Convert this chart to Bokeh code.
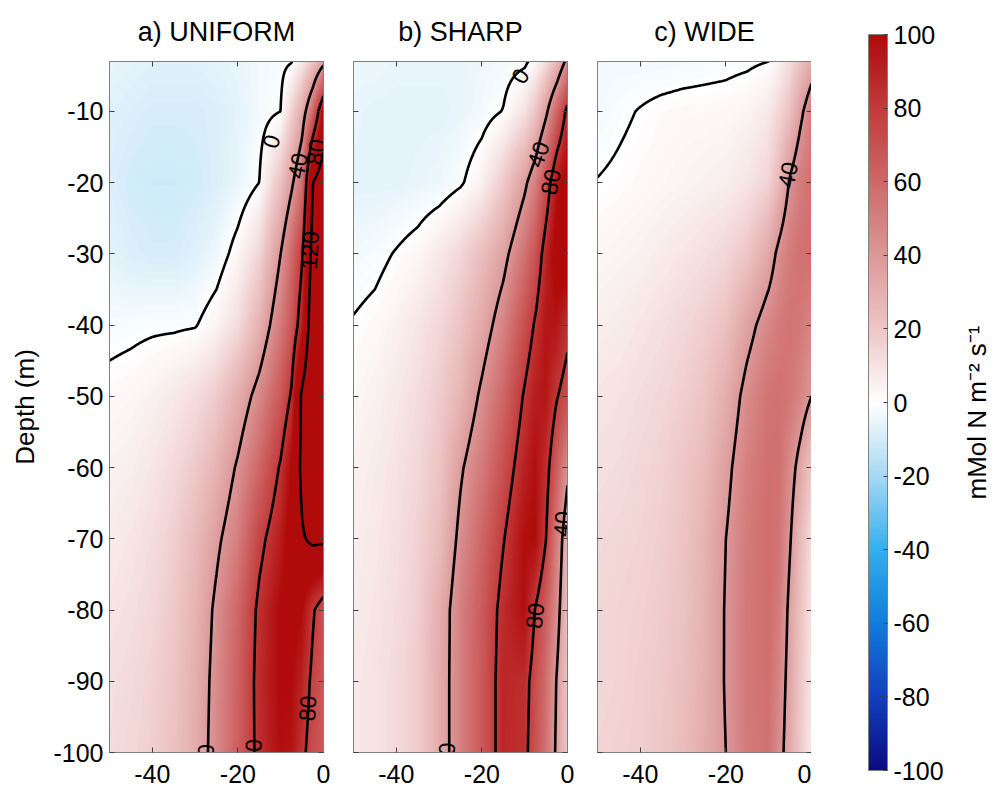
import numpy as np
from bokeh.plotting import figure
from bokeh.models import (LinearColorMapper, LinearAxis, FixedTicker, CustomJSTickFormatter,
                          Label, Range1d, ColumnDataSource, ColorBar)
from bokeh.layouts import row
from bokeh.embed import file_html
from bokeh.resources import INLINE
from bokeh.core.properties import value

FONT = "Liberation Sans"

# ---------------- data ----------------
x_cols = [-50, -45, -40, -35, -30, -25, -20, -15, -10, -7.5, -5, -2.5, 0]
depth_rows = [-3, -10, -20, -30, -40, -50, -60, -70, -80, -90, -100]

uniform_vals = [
    [-5, -6, -7, -7, -7, -6, -5, -3, -2, -0.5, 8, 20, 35],
    [-7, -8, -9, -9, -9, -8, -6, -3, 0, 15, 31, 58, 100],
    [-8, -10, -11, -11, -10, -8, -5, 0, 22, 37, 55, 120, 135],
    [-6, -8, -9, -9, -7, -4, 3, 14, 40, 58, 78, 130, 135],
    [-2, -1.5, -1, -1, -0.5, 4, 12, 28, 52, 66, 90, 140, 140],
    [2, 3, 5, 8, 12, 18, 30, 46, 66, 82, 125, 145, 145],
    [5, 6, 9, 13, 19, 28, 42, 60, 82, 100, 125, 145, 145],
    [7, 9, 12, 17, 25, 37, 50, 75, 92, 105, 118, 124, 124],
    [9, 11, 14, 19, 28, 43, 60, 84, 100, 105, 100, 82, 70],
    [11, 13, 16, 21, 30, 45, 62, 86, 100, 100, 90, 76, 68],
    [12, 14, 17, 22, 31, 46, 63, 85, 98, 96, 84, 72, 66],
]
sharp_vals = [
    [-4, -4, -5, -5, -5, -5, -4, -3, -1.5, 3, 12, 25, 45],
    [-5, -6, -6, -6, -6, -5, -3, 0.3, 10, 20, 37, 60, 85],
    [-6, -6, -6, -5, -4, -1, 5, 18, 37, 50, 70, 95, 105],
    [-3, -2, 0.5, 3, 8, 14, 23, 35, 55, 68, 88, 105, 110],
    [0.5, 2, 5, 9, 14, 21, 32, 48, 70, 82, 95, 95, 85],
    [3, 5, 8, 12, 18, 27, 43, 60, 82, 92, 95, 81, 72],
    [5, 7, 10, 14, 21, 38, 52, 70, 90, 98, 86, 65, 44],
    [6, 8, 11, 16, 24, 44, 60, 79, 98, 100, 80, 52, 28],
    [7, 9, 12, 17, 30, 50, 65, 86, 98, 79, 65, 46, 24],
    [8, 10, 13, 18, 31, 50, 66, 88, 86, 72, 58, 39, 22],
    [8, 10, 13, 18, 31, 50, 66, 88, 84, 70, 56, 37, 20],
]
wide_vals = [
    [-3, -3, -3, -3, -2.5, -2, -1.5, -1, 0, 5, 12, 22, 32],
    [-2.5, -1, 0.3, 1.5, 2.1, 2.3, 2.5, 4, 8, 14, 22, 37, 50],
    [0.2, 1, 2, 3, 4, 5, 6, 9, 15, 26, 42, 52, 56],
    [3, 4, 5, 7, 9, 11, 14, 20, 33, 44, 52, 56, 57],
    [6, 7, 9, 11, 14, 17, 22, 35, 47, 52, 55, 53, 48],
    [9, 10, 12, 14, 17, 21, 30, 45, 55, 56, 54, 48, 40],
    [11, 12, 14, 16, 20, 25, 36, 50, 57, 57, 46, 34, 20],
    [13, 14, 15, 17, 21, 28, 40, 52, 58, 55, 41, 25, 12],
    [14, 15, 16, 18, 22, 29, 41, 53, 58, 52, 36, 22, 10],
    [14, 15, 17, 19, 23, 30, 41, 53, 57, 48, 34, 20, 9],
    [15, 16, 17, 20, 24, 31, 40, 52, 56, 45, 32, 19, 8],
]

panel_titles = ["a) UNIFORM", "b) SHARP", "c) WIDE"]
contour_levels = [0, 40, 80, 120]

uniform_labels = dict(x=[-12.3, -6.1, -1.9, -3.3, -3.8, -27.6, -16.5],
                      y=[-14.2, -17.6, -15.7, -29.5, -93.8, -100.6, -99.9],
                      text=["0", "40", "80", "120", "80", "40", "80"],
                      angle=[72, 79, 81, 86, 87, 89, 89])
sharp_labels = dict(x=[-11.1, -6.9, -4.0, -1.3, -7.7, -28.3],
                    y=[-5.0, -16.0, -19.9, -67.9, -80.8, -100.4],
                    text=["0", "40", "80", "40", "80", "40"],
                    angle=[58, 71, 79, 86, 83, 89])
wide_labels = dict(x=[-5.6], y=[-18.9], text=["40"], angle=[78])

x_ticks = [-40, -20, 0]
y_ticks = [-100, -90, -80, -70, -60, -50, -40, -30, -20, -10]
cbar_ticks = [-100, -80, -60, -40, -20, 0, 20, 40, 60, 80, 100]
cbar_label = "mMol N m\u207b\u00b2 s\u207b\u00b9"

cmap_values = [-100, -80, -60, -40, -20, 0, 20, 40, 60, 80, 100]
cmap_colors = ["#0b0b85", "#123fbf", "#0f7ddd", "#33b0ee", "#a6d9f3", "#ffffff",
               "#eec6c6", "#dc9898", "#cf6868", "#c33b3b", "#b00a0a"]

# ---------------- colour map ----------------
def _rgb(h):
    return [int(h[i:i + 2], 16) for i in (1, 3, 5)]

_anch = np.array([_rgb(c) for c in cmap_colors], float)
palette = []
for v in np.linspace(-100, 100, 256):
    r, g, b = [int(round(np.interp(v, cmap_values, _anch[:, k]))) for k in range(3)]
    palette.append("#%02x%02x%02x" % (r, g, b))
mapper = LinearColorMapper(palette=palette, low=-100, high=100,
                           low_color=cmap_colors[0], high_color=cmap_colors[-1])

Y_TOP = -3.0
FRAME_W, FRAME_H = 214, 691


def smooth_field(vals, nx=215, ny=345):
    z = np.array(vals, float)[::-1]
    ys = np.array(depth_rows[::-1], float)
    xs = np.array(x_cols, float)
    xf = np.linspace(-50, 0, nx)
    yf = np.linspace(-100, Y_TOP, ny)
    tmp = np.array([np.interp(xf, xs, r) for r in z])
    out = np.array([np.interp(yf, ys, tmp[:, j]) for j in range(nx)]).T
    return xf, yf, out


def int_fmt():
    return CustomJSTickFormatter(code="return tick.toFixed(0)")


def style_axis(ax, labels=True):
    ax.major_tick_in = 5
    ax.major_tick_out = 0
    ax.minor_tick_in = 0
    ax.minor_tick_out = 0
    ax.axis_line_color = "#808080"
    ax.major_tick_line_color = "#404040"
    ax.major_label_text_font = FONT
    ax.major_label_text_font_size = "25px"
    ax.major_label_text_color = "black"
    if labels:
        ax.formatter = int_fmt()
    else:
        ax.formatter = CustomJSTickFormatter(code="return ''")
        ax.major_label_standoff = 0


def make_panel(title, vals, labels, first, bl, br):
    p = figure(frame_width=FRAME_W, frame_height=FRAME_H,
               x_range=Range1d(-50, 0), y_range=Range1d(-100, Y_TOP),
               min_border_left=bl, min_border_right=br,
               min_border_top=61, min_border_bottom=42,
               toolbar_location=None, output_backend="svg", title=title)
    p.title.align = "center"
    p.title.text_font = FONT
    p.title.text_font_size = "27px"
    p.title.text_font_style = "normal"
    p.title.text_color = "black"
    p.title.standoff = 29
    p.grid.visible = False
    p.outline_line_color = "#808080"
    p.background_fill_color = "white"
    p.border_fill_color = "white"

    xf, yf, zf = smooth_field(vals)
    p.image(image=[zf], x=-50, y=-100, dw=50, dh=100 + Y_TOP, color_mapper=mapper)
    p.contour(xf, yf, zf, levels=contour_levels, line_color="black", line_width=2.6)
    src = ColumnDataSource(labels)
    p.text(x="x", y="y", text="text", angle="angle", angle_units="deg", source=src,
           text_font=value(FONT), text_font_size="23px", text_align="center",
           text_baseline="middle", text_color="black")

    p.xaxis.ticker = FixedTicker(ticks=x_ticks)
    p.yaxis.ticker = FixedTicker(ticks=y_ticks)
    style_axis(p.xaxis[0])
    p.xaxis.major_label_standoff = 12
    style_axis(p.yaxis[0], labels=first)
    if first:
        p.yaxis.major_label_standoff = 6
        p.yaxis.axis_label = "Depth (m)"
        p.yaxis.axis_label_text_font = FONT
        p.yaxis.axis_label_text_font_size = "26px"
        p.yaxis.axis_label_text_font_style = "normal"
        p.yaxis.axis_label_text_color = "black"
        p.yaxis.axis_label_standoff = 10
    top = LinearAxis(ticker=FixedTicker(ticks=x_ticks))
    style_axis(top, labels=False)
    p.add_layout(top, "above")
    right = LinearAxis(ticker=FixedTicker(ticks=y_ticks))
    style_axis(right, labels=False)
    p.add_layout(right, "right")
    return p


pa = make_panel(panel_titles[0], uniform_vals, uniform_labels, True, 109, 15)
pb = make_panel(panel_titles[1], sharp_vals, sharp_labels, False, 15, 15)
pc = make_panel(panel_titles[2], wide_vals, wide_labels, False, 15, 0)

# ---------------- colour bar (annotation in its own figure) ----------------
pcb = figure(frame_width=182, frame_height=FRAME_H, x_range=Range1d(0, 182), y_range=Range1d(0, FRAME_H),
             min_border_left=0, min_border_right=0, min_border_top=61, min_border_bottom=42,
             toolbar_location=None, output_backend="svg", x_axis_location=None,
             y_axis_location=None)
pcb.grid.visible = False
pcb.outline_line_color = None
cb = ColorBar(color_mapper=mapper, ticker=FixedTicker(ticks=cbar_ticks), formatter=int_fmt(),
              orientation="vertical", width=19, height=736, location=(57, -18),
              padding=0, margin=0, label_standoff=6,
              major_label_text_font=FONT, major_label_text_font_size="25px",
              major_label_text_color="black",
              major_tick_in=4, major_tick_out=0, major_tick_line_color="#404040",
              minor_tick_line_color=None,
              bar_line_color="#808080", border_line_color=None,
              background_fill_color=None)
pcb.add_layout(cb)
pcb.add_layout(Label(x=150, y=340, text=cbar_label, angle=90, angle_units="deg",
                     text_align="center", text_baseline="top", text_font=FONT,
                     text_font_size="26px", text_color="black"))

layout = row(pa, pb, pc, pcb, spacing=0)
open("out.html", "w").write(file_html(layout, INLINE))
